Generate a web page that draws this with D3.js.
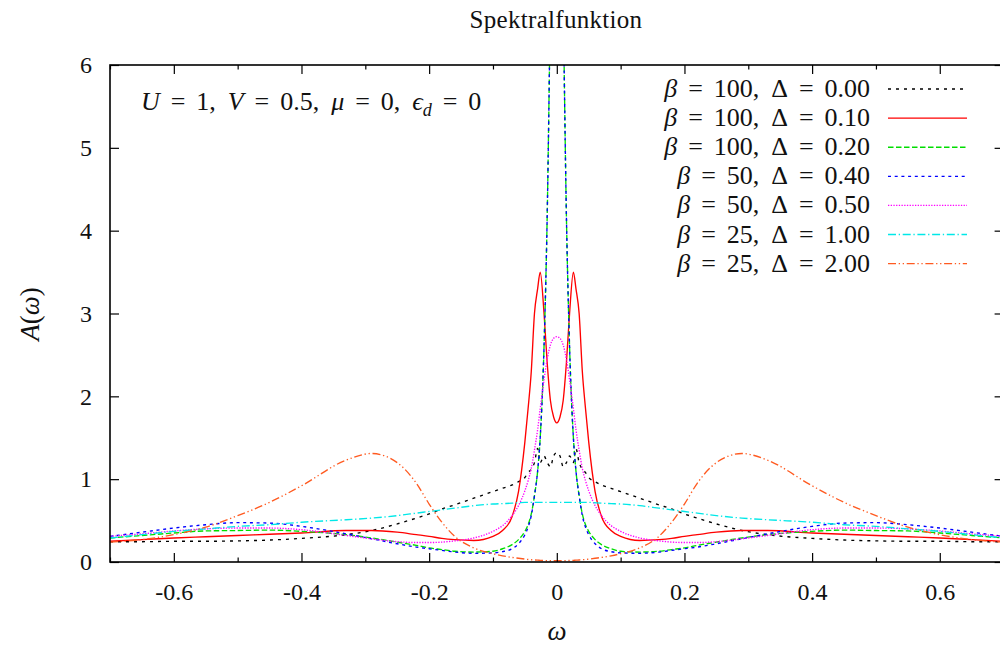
<!DOCTYPE html>
<html><head><meta charset="utf-8">
<script src="https://cdn.jsdelivr.net/npm/d3@7"></script>
<style>
body{margin:0;background:#fff}
svg text{font-family:"Liberation Serif","Times New Roman","DejaVu Serif",serif;fill:#111}
</style>
</head><body>
<svg id="c" width="1000" height="645"></svg>
<script>
// ---- data ----
const omega = [-0.7,-0.65,-0.6,-0.55,-0.5,-0.45,-0.4,-0.33,-0.29,-0.25,-0.22,-0.2,-0.18,-0.16,-0.13,-0.1,-0.085,-0.07,-0.06,-0.05,-0.045,-0.04,-0.035,-0.03,-0.026,-0.02,-0.015,-0.01,-0.005,
  0,
  0.005,0.01,0.015,0.02,0.026,0.03,0.035,0.04,0.045,0.05,0.06,0.07,0.085,0.1,0.13,0.16,0.18,0.2,0.22,0.25,0.29,0.33,0.4,0.45,0.5,0.55,0.6,0.65,0.7];

const betas  = [100, 100, 100, 50, 50, 25, 25];
const deltas = ["0.00", "0.10", "0.20", "0.40", "0.50", "1.00", "2.00"];

const A_b100_d000 = [0.245,0.245,0.25,0.25,0.255,0.265,0.285,0.33,0.38,0.46,0.53,0.58,0.64,0.69,0.77,0.85,0.89,0.93,0.97,1.02,1.08,1.12,1.2,1.37,1.2,1.28,1.2,1.15,1.28,
  1.32,
  1.28,1.15,1.2,1.28,1.2,1.37,1.2,1.12,1.08,1.02,0.97,0.93,0.89,0.85,0.77,0.69,0.64,0.58,0.53,0.46,0.38,0.33,0.285,0.265,0.255,0.25,0.25,0.245,0.245];
const A_b100_d010 = [0.25,0.27,0.29,0.305,0.32,0.335,0.35,0.38,0.38,0.36,0.33,0.31,0.285,0.27,0.26,0.31,0.38,0.55,0.85,1.45,1.85,2.3,3.0,3.3,3.5,3.0,2.4,1.95,1.75,
  1.68,
  1.75,1.95,2.4,3.0,3.5,3.3,3.0,2.3,1.85,1.45,0.85,0.55,0.38,0.31,0.26,0.27,0.285,0.31,0.33,0.36,0.38,0.38,0.35,0.335,0.32,0.305,0.29,0.27,0.25];
const A_b100_d020 = [0.29,0.32,0.35,0.375,0.38,0.385,0.37,0.33,0.29,0.24,0.2,0.17,0.15,0.13,0.12,0.13,0.16,0.21,0.27,0.37,0.45,0.58,0.8,1.1,1.5,2.6,4.2,6.8,9.5,
  12,
  9.5,6.8,4.2,2.6,1.5,1.1,0.8,0.58,0.45,0.37,0.27,0.21,0.16,0.13,0.12,0.13,0.15,0.17,0.2,0.24,0.29,0.33,0.37,0.385,0.38,0.375,0.35,0.32,0.29];
const A_b50_d040 = [0.31,0.36,0.41,0.45,0.475,0.47,0.43,0.34,0.28,0.22,0.18,0.16,0.14,0.12,0.105,0.11,0.125,0.16,0.22,0.33,0.42,0.56,0.8,1.1,1.5,2.6,4.2,6.8,9.5,
  12,
  9.5,6.8,4.2,2.6,1.5,1.1,0.8,0.56,0.42,0.33,0.22,0.16,0.125,0.11,0.105,0.12,0.14,0.16,0.18,0.22,0.28,0.34,0.43,0.47,0.475,0.45,0.41,0.36,0.31];
const A_b50_d050 = [0.31,0.34,0.375,0.4,0.41,0.41,0.39,0.32,0.28,0.245,0.235,0.235,0.24,0.255,0.29,0.37,0.44,0.56,0.68,0.86,0.98,1.13,1.35,1.6,1.85,2.2,2.45,2.62,2.7,
  2.72,
  2.7,2.62,2.45,2.2,1.85,1.6,1.35,1.13,0.98,0.86,0.68,0.56,0.44,0.37,0.29,0.255,0.24,0.235,0.235,0.245,0.28,0.32,0.39,0.41,0.41,0.4,0.375,0.34,0.31];
const A_b25_d100 = [0.29,0.33,0.37,0.4,0.43,0.45,0.48,0.51,0.53,0.56,0.59,0.61,0.63,0.65,0.68,0.7,0.705,0.71,0.715,0.72,0.72,0.72,0.72,0.72,0.72,0.72,0.72,0.72,0.72,
  0.72,
  0.72,0.72,0.72,0.72,0.72,0.72,0.72,0.72,0.72,0.72,0.715,0.71,0.705,0.7,0.68,0.65,0.63,0.61,0.59,0.56,0.53,0.51,0.48,0.45,0.43,0.4,0.37,0.33,0.29];
const A_b25_d200 = [0.24,0.27,0.33,0.42,0.56,0.72,0.92,1.23,1.31,1.2,0.95,0.7,0.48,0.31,0.17,0.1,0.075,0.055,0.045,0.035,0.03,0.027,0.024,0.022,0.02,0.018,0.017,0.016,0.015,
  0.015,
  0.015,0.016,0.017,0.018,0.02,0.022,0.024,0.027,0.03,0.035,0.045,0.055,0.075,0.1,0.17,0.31,0.48,0.7,0.95,1.2,1.31,1.23,0.92,0.72,0.56,0.42,0.33,0.27,0.24];

const seriesValues = [A_b100_d000, A_b100_d010, A_b100_d020, A_b50_d040, A_b50_d050, A_b25_d100, A_b25_d200];
const xMajorTicks = [-0.6,-0.4,-0.2,0,0.2,0.4,0.6];
const xMinorTicks = [-0.7,-0.5,-0.3,-0.1,0.1,0.3,0.5,0.7];
const yTicks = [0,1,2,3,4,5,6];

// ---- styles ----
const colors = ["#000000","#ff0000","#00dd00","#0000ff","#ff00ff","#00e8e8","#ff5a20"];
const dashes = ["3,5", null, "5.5,2.5", "3,3.7", "1.3,1.4", "8,2.7,1.3,2.7", "8,2.7,1.3,2.7,1.3,2.7"];

const svg = d3.select("#c");
const L = 110, R = 1003.6, T = 65, B = 562;
const x = d3.scaleLinear().domain([-0.7, 0.7]).range([L, R]);
const y = d3.scaleLinear().domain([0, 6]).range([B, T]);

svg.append("defs").append("clipPath").attr("id","clip")
  .append("rect").attr("x",L).attr("y",T).attr("width",R-L).attr("height",B-T);

// curves
const line = d3.line().x((d,i)=>x(omega[i])).y(d=>y(d)).curve(d3.curveMonotoneX);
const gLines = svg.append("g").attr("clip-path","url(#clip)");
seriesValues.forEach((vals,k)=>{
  gLines.append("path").attr("d", line(vals))
    .attr("fill","none").attr("stroke",colors[k]).attr("stroke-width",1.35)
    .attr("stroke-dasharray",dashes[k]);
});

// axes
function styleAxis(g){
  g.attr("font-family",null);
  g.select(".domain").remove();
  g.selectAll(".tick line").attr("stroke","#000").attr("stroke-width",1.2);
  g.selectAll("text").attr("font-size",24).attr("fill","#111");
}
svg.append("g").attr("transform",`translate(0,${B})`)
  .call(d3.axisBottom(x).tickValues(xMajorTicks).tickSizeInner(-9).tickPadding(21).tickFormat(d=>d===0?"0":d3.format(".1f")(d).replace("−","-")))
  .call(styleAxis);
svg.append("g").attr("transform",`translate(0,${B})`)
  .call(d3.axisBottom(x).tickValues(xMinorTicks).tickSizeInner(-4.5).tickFormat(""))
  .call(styleAxis);
svg.append("g").attr("transform",`translate(0,${T})`)
  .call(d3.axisTop(x).tickValues(xMajorTicks).tickSizeInner(-9).tickFormat(""))
  .call(styleAxis);
svg.append("g").attr("transform",`translate(0,${T})`)
  .call(d3.axisTop(x).tickValues(xMinorTicks).tickSizeInner(-4.5).tickFormat(""))
  .call(styleAxis);
svg.append("g").attr("transform",`translate(${L},0)`)
  .call(d3.axisLeft(y).tickValues(yTicks).tickSizeInner(-9).tickPadding(18).tickFormat(d3.format("d")))
  .call(styleAxis);
svg.append("g").attr("transform",`translate(${R},0)`)
  .call(d3.axisRight(y).tickValues(yTicks).tickSizeInner(-9).tickFormat(""))
  .call(styleAxis);

// border
svg.append("rect").attr("x",L).attr("y",T).attr("width",R-L).attr("height",B-T)
  .attr("fill","none").attr("stroke","#000").attr("stroke-width",1.6);

// math-like text builder: parts = [text, kind, extraDx]; kind "i" italic, "r" roman, "=" relation (spaced), "sub" subscript
function mathText(sel, parts, size){
  let pending = 0, sub = false;
  parts.forEach(([s,k,extra])=>{
    const t = sel.append("tspan").text(s);
    let dx = pending + (extra||0);
    pending = 0;
    if (k==="i") t.attr("font-style","italic");
    if (k==="=") { dx += size*0.42; pending = size*0.42; }
    if (k==="sub") { t.attr("font-style","italic").attr("font-size", size*0.7).attr("dy", size*0.24); sub = true; }
    else if (sub) { t.attr("dy", -size*0.24); sub = false; }
    if (dx) t.attr("dx", dx);
  });
}

// title & axis labels
svg.append("text").attr("x",556).attr("y",28).attr("text-anchor","middle").attr("font-size",25)
  .attr("letter-spacing",0.3).text("Spektralfunktion");
svg.append("text").attr("x",557).attr("y",640).attr("text-anchor","middle").attr("font-size",27).attr("font-style","italic").text("ω");
const yl = svg.append("text").attr("transform","translate(39,314) rotate(-90)").attr("text-anchor","middle").attr("font-size",27);
mathText(yl, [["A","i"],["(","r"],["ω","i"],[")","r"]], 27);

// parameter annotation
const annSize = 26;
const ann = svg.append("text").attr("x",141).attr("y",110).attr("font-size",annSize);
mathText(ann, [
  ["U","i"],["=","="],["1,","r"],
  ["V","i",12],["=","="],["0.5,","r"],
  ["μ","i",12],["=","="],["0,","r"],
  ["ϵ","i",12],["d","sub"],["=","="],["0","r"]
], annSize);

// legend
const legY0 = 89, legDY = 29.1, legSize = 26;
betas.forEach((b,k)=>{
  const yy = legY0 + k*legDY;
  const t = svg.append("text").attr("x",870).attr("y",yy+8).attr("text-anchor","end").attr("font-size",legSize);
  mathText(t, [["β","i"],["=","="],[`${b},`,"r"],["Δ","r",12],["=","="],[deltas[k],"r"]], legSize);
  svg.append("line").attr("x1",888).attr("x2",967).attr("y1",yy).attr("y2",yy)
    .attr("stroke",colors[k]).attr("stroke-width",1.35).attr("stroke-dasharray",dashes[k]);
});
</script>
</body></html>
